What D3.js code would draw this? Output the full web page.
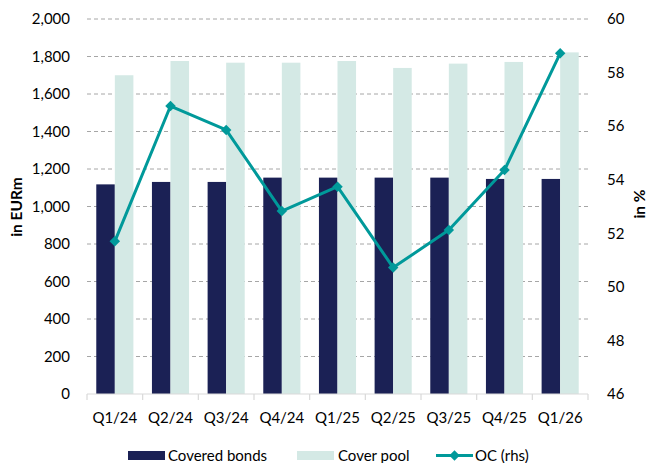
<!DOCTYPE html>
<html>
<head>
<meta charset="utf-8">
<script src="https://cdn.jsdelivr.net/npm/d3@7/dist/d3.min.js"></script>
<style>
  html, body { margin: 0; padding: 0; background: #fff; }
  svg { display: block; font-family: Lato, "Open Sans", sans-serif; }
</style>
</head>
<body>
<svg id="chart" width="649" height="463"></svg>
<script>
// Quarterly figures
const quarters = ["Q1/24", "Q2/24", "Q3/24", "Q4/24", "Q1/25", "Q2/25", "Q3/25", "Q4/25", "Q1/26"];
const coveredBonds = [1118, 1131, 1131, 1154, 1154, 1154, 1154, 1147, 1147];
const coverPool = [1700, 1776, 1767, 1767, 1776, 1739, 1762, 1771, 1822];
const ocRatio = [51.7, 56.75, 55.86, 52.83, 53.74, 50.72, 52.12, 54.36, 58.72];
const leftTicks = [0, 200, 400, 600, 800, 1000, 1200, 1400, 1600, 1800, 2000];
const rightTicks = [46, 48, 50, 52, 54, 56, 58, 60];
const seriesNames = ["Covered bonds", "Cover pool", "OC (rhs)"];

const colors = { cb: "#1b2155", cp: "#d4e9e5", oc: "#00999a" };

const svg = d3.select("#chart");
const plot = { left: 87, right: 588, top: 19, bottom: 394 };

const x = d3.scaleBand().domain(quarters).range([plot.left, plot.right]);
const xSub = d3.scaleBand().domain(["cb", "cp"]).range([0, x.bandwidth()]).paddingOuter(0.5);
const yL = d3.scaleLinear().domain([0, 2000]).range([plot.bottom, plot.top]);
const yR = d3.scaleLinear().domain([46, 60]).range([plot.bottom, plot.top]);

// Dashed horizontal gridlines
svg.append("g")
  .selectAll("line")
  .data(leftTicks.filter(d => d > 0))
  .join("line")
  .attr("x1", plot.left).attr("x2", plot.right)
  .attr("y1", d => yL(d)).attr("y2", d => yL(d))
  .attr("stroke", "#a6a6a6")
  .attr("stroke-width", 1)
  .attr("stroke-dasharray", "4,3");

// Bars
const groups = svg.append("g")
  .selectAll("g")
  .data(quarters.map((q, i) => ({ q, cb: coveredBonds[i], cp: coverPool[i] })))
  .join("g")
  .attr("transform", d => `translate(${x(d.q)},0)`);

groups.append("rect")
  .attr("x", xSub("cb"))
  .attr("width", xSub.bandwidth())
  .attr("y", d => yL(d.cb))
  .attr("height", d => yL(0) - yL(d.cb))
  .attr("fill", colors.cb);

groups.append("rect")
  .attr("x", xSub("cp"))
  .attr("width", xSub.bandwidth())
  .attr("y", d => yL(d.cp))
  .attr("height", d => yL(0) - yL(d.cp))
  .attr("fill", colors.cp);

// Category axis
const xAxis = svg.append("g").attr("transform", `translate(0,${plot.bottom})`);
xAxis.append("line")
  .attr("x1", plot.left).attr("x2", plot.right)
  .attr("stroke", "#d9d9d9").attr("stroke-width", 1.2);
const boundaries = quarters.map(q => x(q)).concat([plot.right]);
xAxis.selectAll("line.tick")
  .data(boundaries)
  .join("line")
  .attr("class", "tick")
  .attr("x1", d => d).attr("x2", d => d)
  .attr("y1", 0).attr("y2", 6)
  .attr("stroke", "#d9d9d9").attr("stroke-width", 1.2);
xAxis.selectAll("text")
  .data(quarters)
  .join("text")
  .attr("x", d => x(d) + x.bandwidth() / 2)
  .attr("y", 29)
  .attr("text-anchor", "middle")
  .attr("font-size", 15)
  .attr("fill", "#000")
  .text(d => d);

// Left value axis
const yAxisL = d3.axisLeft(yL).tickValues(leftTicks).tickSize(0).tickPadding(17)
  .tickFormat(d3.format(","));
svg.append("g")
  .attr("transform", `translate(${plot.left},0)`)
  .call(yAxisL)
  .call(g => g.select(".domain").remove())
  .call(g => g.selectAll("text").attr("font-size", 15).attr("fill", "#000")
    .attr("font-family", "Lato, 'Open Sans', sans-serif"));

// Right value axis
const yAxisR = d3.axisRight(yR).tickValues(rightTicks).tickSize(0).tickPadding(19);
svg.append("g")
  .attr("transform", `translate(${plot.right},0)`)
  .call(yAxisR)
  .call(g => g.select(".domain").remove())
  .call(g => g.selectAll("text").attr("font-size", 15).attr("fill", "#000")
    .attr("font-family", "Lato, 'Open Sans', sans-serif"));

// Axis titles
svg.append("text")
  .attr("transform", `translate(22,207) rotate(-90)`)
  .attr("text-anchor", "middle")
  .attr("font-size", 15.5).attr("font-weight", "bold")
  .text("in EURm");
svg.append("text")
  .attr("transform", `translate(645,204) rotate(-90)`)
  .attr("text-anchor", "middle")
  .attr("font-size", 15.5).attr("font-weight", "bold")
  .text("in %");

// OC line with diamond markers
const ocPoints = quarters.map((q, i) => [x(q) + x.bandwidth() / 2, yR(ocRatio[i])]);
svg.append("path")
  .datum(ocPoints)
  .attr("d", d3.line())
  .attr("fill", "none")
  .attr("stroke", colors.oc)
  .attr("stroke-width", 3)
  .attr("stroke-linejoin", "round");
const diamond = d3.symbol().type(d3.symbolDiamond2).size(70);
svg.append("g")
  .selectAll("path")
  .data(ocPoints)
  .join("path")
  .attr("transform", d => `translate(${d[0]},${d[1]})`)
  .attr("d", diamond)
  .attr("fill", colors.oc);

// Legend
const legend = svg.append("g").attr("font-size", 15);
legend.append("rect").attr("x", 128).attr("y", 451).attr("width", 37).attr("height", 9).attr("fill", colors.cb);
legend.append("text").attr("x", 168).attr("y", 461).text(seriesNames[0]);
legend.append("rect").attr("x", 297).attr("y", 451).attr("width", 37).attr("height", 9).attr("fill", colors.cp);
legend.append("text").attr("x", 338).attr("y", 461).text(seriesNames[1]);
legend.append("line").attr("x1", 436).attr("x2", 473).attr("y1", 455.5).attr("y2", 455.5)
  .attr("stroke", colors.oc).attr("stroke-width", 3);
legend.append("path").attr("transform", "translate(454.5,455.5)").attr("d", diamond).attr("fill", colors.oc);
legend.append("text").attr("x", 475).attr("y", 461).text(seriesNames[2]);
</script>
</body>
</html>
